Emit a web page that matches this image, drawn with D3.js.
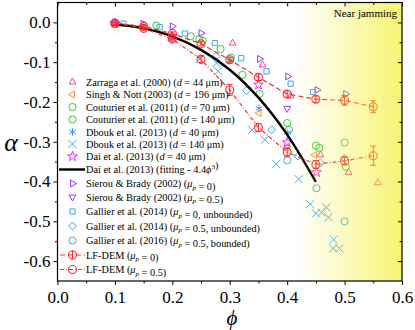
<!DOCTYPE html>
<html>
<head>
<meta charset="utf-8">
<script src="https://cdn.jsdelivr.net/npm/d3@7"></script>
<style>
body { margin: 0; background: #fff; }
</style>
</head>
<body>
<script>

// data: [phi, alpha]
var zarraga   = [[0.1,-0.001],[0.305,-0.052],[0.357,-0.107],[0.406,-0.185],[0.458,-0.333],[0.507,-0.377],[0.558,-0.403]];
var singh     = [[0.351,-0.228],[0.4,-0.314],[0.448,-0.333]];
var cout70    = [[0.172,-0.008],[0.232,-0.035],[0.284,-0.067],[0.322,-0.132],[0.4,-0.253],[0.45,-0.31],[0.5,-0.302]];
var cout140   = [[0.247,-0.042],[0.253,-0.046],[0.302,-0.088],[0.352,-0.18],[0.403,-0.27],[0.456,-0.315],[0.502,-0.363]];
var dbouk40   = [[0.2,-0.042],[0.3,-0.096],[0.351,-0.216],[0.401,-0.277]];
var dbouk140  = [[0.248,-0.092],[0.277,-0.102],[0.28,-0.123],[0.339,-0.27],[0.361,-0.295],[0.381,-0.356],[0.42,-0.394],
                 [0.44,-0.457],[0.45,-0.48],[0.46,-0.478],[0.468,-0.465],[0.472,-0.49],[0.481,-0.546],[0.48,-0.568],[0.491,-0.568]];
var dai       = [[0.1,-0.002],[0.2,-0.035],[0.35,-0.157],[0.4,-0.302],[0.451,-0.377]];
var daiFit    = [[0.1,-0.004],[0.15,-0.015],[0.2,-0.035],[0.25,-0.069],[0.3,-0.119],[0.35,-0.189],[0.4,-0.282],[0.45,-0.401]];
var sierou0   = [[0.1,0.0],[0.149,-0.003],[0.2,-0.01],[0.25,-0.027],[0.352,-0.092],[0.401,-0.136],[0.452,-0.17],[0.502,-0.18]];
var sierou05  = [[0.4,-0.216]];
var gallier0  = [[0.115,-0.003],[0.178,-0.012],[0.222,-0.028],[0.274,-0.052],[0.32,-0.09],[0.364,-0.123],[0.406,-0.154],[0.445,-0.175]];
var gallier05 = [[0.276,-0.085],[0.329,-0.171],[0.373,-0.27],[0.419,-0.336],[0.458,-0.353],[0.5,-0.342]];
var gallier16 = [[0.4,-0.347],[0.451,-0.417],[0.5,-0.5]];

// LF-DEM: [phi, alpha, error]
var lfdem0  = [[0.1,-0.002,0.003],[0.15,-0.01,0.003],[0.2,-0.028,0.004],[0.25,-0.054,0.005],[0.3,-0.094,0.006],
               [0.35,-0.138,0.008],[0.4,-0.18,0.008],[0.45,-0.193,0.008],[0.5,-0.196,0.012],[0.55,-0.212,0.015]];
var lfdem05 = [[0.1,-0.002,0.003],[0.15,-0.015,0.004],[0.2,-0.042,0.005],[0.25,-0.093,0.008],[0.3,-0.17,0.014],
               [0.35,-0.264,0.01],[0.4,-0.326,0.01],[0.45,-0.357,0.01],[0.5,-0.348,0.01],[0.55,-0.335,0.024]];

var xTicks = [0, 0.1, 0.2, 0.3, 0.4, 0.5, 0.6];
var yTicks = [0, -0.1, -0.2, -0.3, -0.4, -0.5, -0.6];

var width = 415, height = 330;
var serif = "Liberation Serif";

var x = d3.scaleLinear().domain([0, 0.6]).range([57.5, 402]);
var y = d3.scaleLinear().domain([-0.65, 0.05]).range([281, 2.5]);

var svg = d3.select("body").append("svg")
    .attr("width", width)
    .attr("height", height)
    .attr("font-family", serif);

var series = [
    {data: zarraga,  color: "#ff3a9c", type: d3.symbolTriangle2, rot: 0,   size: 34, label: ["Zarraga et al. (2000) (", ["d", "i"], " = 44 μm)"]},
    {data: singh,    color: "#ff8c1a", type: d3.symbolTriangle2, rot: -90, size: 34, label: ["Singh & Nott (2003) (", ["d", "i"], " = 196 μm)"]},
    {data: cout70,   color: "#33cc33", type: d3.symbolCircle,    rot: 0,   size: 40, label: ["Couturier et al. (2011) (", ["d", "i"], " = 70 μm)"]},
    {data: cout140,  color: "#33cc33", type: d3.symbolCircle,    rot: 0,   size: 40, label: ["Couturier et al. (2011) (", ["d", "i"], " = 140 μm)"]},
    {data: dbouk40,  color: "#3399ff", type: d3.symbolAsterisk,  rot: 0,   size: 40, label: ["Dbouk et al. (2013) (", ["d", "i"], " = 40 μm)"]},
    {data: dbouk140, color: "#33aaff", type: d3.symbolTimes,     rot: 0,   size: 44, label: ["Dbouk et al. (2013) (", ["d", "i"], " = 140 μm)"]},
    {data: dai,      color: "#ff22ff", type: d3.symbolStar,      rot: 0,   size: 30, label: ["Dai et al. (2013) (", ["d", "i"], " = 40 μm)"]},
    {fit: true,                                                                      label: ["Dai et al. (2013) (fitting - 4.4", ["ϕ", "i"], ["3", "sup"], ")"]},
    {data: sierou0,  color: "#9933ff", type: d3.symbolTriangle2, rot: 90,  size: 34, label: ["Sierou & Brady (2002) (", ["μ", "i"], ["p", "sub"], " = 0)"]},
    {data: sierou05, color: "#9933ff", type: d3.symbolTriangle2, rot: 180, size: 34, label: ["Sierou & Brady (2002) (", ["μ", "i"], ["p", "sub"], " = 0.5)"]},
    {data: gallier0, color: "#33aaee", type: d3.symbolSquare2,   rot: 0,   size: 34, label: ["Gallier et al. (2014) (", ["μ", "i"], ["p", "sub"], " = 0, unbounded)"]},
    {data: gallier05,color: "#33aaee", type: d3.symbolDiamond2,  rot: 0,   size: 40, label: ["Gallier et al. (2014) (", ["μ", "i"], ["p", "sub"], " = 0.5, unbounded)"]},
    {data: gallier16,color: "#33aaee", type: d3.symbolCircle,    rot: 0,   size: 40, label: ["Gallier et al. (2016) (", ["μ", "i"], ["p", "sub"], " = 0.5, bounded)"]},
    {dem: lfdem0,  dash: "5,3",       label: ["LF-DEM (", ["μ", "i"], ["p", "sub"], " = 0)"]},
    {dem: lfdem05, dash: "4,2,1,2",   label: ["LF-DEM (", ["μ", "i"], ["p", "sub"], " = 0.5)"]}
];
var legendY = [82, 94.5, 107, 119.5, 132, 144, 156.5, 169.5, 183.5, 197, 211.5, 226, 240.5, 255, 269.5];
var demColor = "#ff2b2b";

// plot clip
svg.append("clipPath").attr("id", "clip")
    .append("rect").attr("x", x(0)).attr("y", y(0.05)).attr("width", x(0.6) - x(0)).attr("height", y(-0.65) - y(0.05));

var plot = svg.append("g").attr("clip-path", "url(#clip)");

function markerPath(s) {
    return d3.symbol().type(s.type).size(s.size)();
}

// experiment / simulation markers
series.forEach(function(s) {
    if (!s.data) return;
    plot.append("g").selectAll("path")
        .data(s.data)
        .enter().append("path")
        .attr("d", markerPath(s))
        .attr("transform", function(d) { return "translate(" + x(d[0]) + "," + y(d[1]) + ") rotate(" + s.rot + ")"; })
        .attr("fill", "none")
        .attr("stroke", s.color)
        .attr("stroke-width", 1);
});

// Dai fitting curve
var line = d3.line()
    .x(function(d) { return x(d[0]); })
    .y(function(d) { return y(d[1]); })
    .curve(d3.curveCatmullRom);

plot.append("path")
    .datum(daiFit)
    .attr("d", line)
    .attr("fill", "none")
    .attr("stroke", "#000")
    .attr("stroke-width", 2.4);

// LF-DEM
series.forEach(function(s) {
    if (!s.dem) return;
    var g = plot.append("g");
    g.append("path")
        .datum(s.dem)
        .attr("d", d3.line().x(function(d) { return x(d[0]); }).y(function(d) { return y(d[1]); }))
        .attr("fill", "none")
        .attr("stroke", demColor)
        .attr("stroke-width", 1.2)
        .attr("stroke-dasharray", s.dash);
    var p = g.selectAll(".pt").data(s.dem).enter().append("g")
        .attr("transform", function(d) { return "translate(" + x(d[0]) + "," + y(d[1]) + ")"; });
    p.append("path")
        .attr("d", function(d) {
            var e = y(d[1] - d[2]) - y(d[1]);
            return "M0," + (-e) + "V" + e + "M-3," + (-e) + "H3M-3," + e + "H3";
        })
        .attr("stroke", demColor).attr("stroke-width", 1).attr("fill", "none");
    p.append("circle").attr("r", 4)
        .attr("fill", "none").attr("stroke", demColor).attr("stroke-width", 1.1);
});

// near jamming shading, drawn over the markers
var grad = svg.append("defs").append("linearGradient")
    .attr("id", "jam")
    .attr("gradientUnits", "userSpaceOnUse")
    .attr("x1", x(0.415)).attr("x2", x(0.6)).attr("y1", 0).attr("y2", 0);
grad.append("stop").attr("offset", 0).attr("stop-color", "#f2ee20").attr("stop-opacity", 0);
grad.append("stop").attr("offset", 0.5).attr("stop-color", "#f2ee20").attr("stop-opacity", 0.3);
grad.append("stop").attr("offset", 1).attr("stop-color", "#f2ee20").attr("stop-opacity", 0.64);

svg.append("rect")
    .attr("x", x(0.4)).attr("y", y(0.05))
    .attr("width", x(0.6) - x(0.4)).attr("height", y(-0.65) - y(0.05))
    .attr("fill", "url(#jam)");

svg.append("text")
    .attr("x", 397).attr("y", 16.5)
    .attr("text-anchor", "end")
    .attr("font-size", 11)
    .text("Near jamming");

// axes
var fmt = d3.format(".1f");
var xMinor = [0.05, 0.15, 0.25, 0.35, 0.45, 0.55];
var yMinor = [-0.05, -0.15, -0.25, -0.35, -0.45, -0.55];

function styleAxis(g) {
    g.attr("font-family", serif).attr("font-size", 17);
    g.select(".domain").remove();
    g.selectAll("line").attr("stroke", "#000").attr("stroke-width", 1);
    g.selectAll("text").attr("fill", "#000");
}

svg.append("g").attr("transform", "translate(0," + y(-0.65) + ")")
    .call(d3.axisBottom(x).tickValues(xTicks).tickFormat(function(d) { return fmt(d); }).tickSize(4).tickPadding(6))
    .call(styleAxis);
svg.append("g").attr("transform", "translate(0," + y(-0.65) + ")")
    .call(d3.axisBottom(x).tickValues(xMinor).tickFormat("").tickSize(2.5))
    .call(styleAxis);
svg.append("g").attr("transform", "translate(0," + y(0.05) + ")")
    .call(d3.axisTop(x).tickValues(xTicks).tickFormat("").tickSize(-4))
    .call(styleAxis);
svg.append("g").attr("transform", "translate(0," + y(0.05) + ")")
    .call(d3.axisTop(x).tickValues(xMinor).tickFormat("").tickSize(-2.5))
    .call(styleAxis);

svg.append("g").attr("transform", "translate(" + x(0) + ",0)")
    .call(d3.axisLeft(y).tickValues(yTicks).tickFormat(function(d) { return d === 0 ? "0.0" : fmt(d).replace("−", "-"); }).tickSize(4).tickPadding(3))
    .call(styleAxis);
svg.append("g").attr("transform", "translate(" + x(0) + ",0)")
    .call(d3.axisLeft(y).tickValues(yMinor).tickFormat("").tickSize(2.5))
    .call(styleAxis);
svg.append("g").attr("transform", "translate(" + x(0.6) + ",0)")
    .call(d3.axisRight(y).tickValues(yTicks).tickFormat("").tickSize(-4))
    .call(styleAxis);
svg.append("g").attr("transform", "translate(" + x(0.6) + ",0)")
    .call(d3.axisRight(y).tickValues(yMinor).tickFormat("").tickSize(-2.5))
    .call(styleAxis);

// frame
svg.append("rect")
    .attr("x", x(0)).attr("y", y(0.05))
    .attr("width", x(0.6) - x(0)).attr("height", y(-0.65) - y(0.05))
    .attr("fill", "none").attr("stroke", "#000").attr("stroke-width", 1.2);

// axis titles
svg.append("text")
    .attr("x", 11).attr("y", 151)
    .attr("text-anchor", "middle")
    .attr("font-size", 26).attr("font-style", "italic")
    .text("α");
svg.append("text")
    .attr("x", 232).attr("y", 325)
    .attr("text-anchor", "middle")
    .attr("font-size", 21).attr("font-style", "italic")
    .text("ϕ");

// legend
var legend = svg.append("g");
series.forEach(function(s, i) {
    var ly = legendY[i];
    if (s.data) {
        legend.append("path")
            .attr("d", markerPath(s))
            .attr("transform", "translate(72.5," + ly + ") rotate(" + s.rot + ")")
            .attr("fill", "none").attr("stroke", s.color).attr("stroke-width", 1);
    } else if (s.fit) {
        legend.append("line")
            .attr("x1", 59).attr("x2", 85).attr("y1", ly).attr("y2", ly)
            .attr("stroke", "#000").attr("stroke-width", 2.4);
    } else if (s.dem) {
        legend.append("line")
            .attr("x1", 60).attr("x2", 85).attr("y1", ly).attr("y2", ly)
            .attr("stroke", demColor).attr("stroke-width", 1.2).attr("stroke-dasharray", s.dash);
        if (i === 13) {
            legend.append("line").attr("x1", 72.5).attr("x2", 72.5).attr("y1", ly - 4.5).attr("y2", ly + 4.5)
                .attr("stroke", demColor).attr("stroke-width", 1);
        }
        legend.append("circle").attr("cx", 72.5).attr("cy", ly).attr("r", 4)
            .attr("fill", "none").attr("stroke", demColor).attr("stroke-width", 1.1);
    }
    var t = legend.append("text")
        .attr("x", 86).attr("y", ly + 3.6)
        .attr("font-size", 10.3).attr("fill", "#000");
    s.label.forEach(function(part) {
        if (typeof part === "string") {
            t.append("tspan").text(part);
        } else if (part[1] === "i") {
            t.append("tspan").attr("font-style", "italic").text(part[0]);
        } else if (part[1] === "sub") {
            t.append("tspan").attr("font-style", "italic").attr("font-size", 7).attr("dy", 2.5).text(part[0]);
            t.append("tspan").attr("dy", -2.5).text("");
        } else if (part[1] === "sup") {
            t.append("tspan").attr("font-size", 7).attr("dy", -4).text(part[0]);
            t.append("tspan").attr("dy", 4).text("");
        }
    });
});

</script>
</body>
</html>
